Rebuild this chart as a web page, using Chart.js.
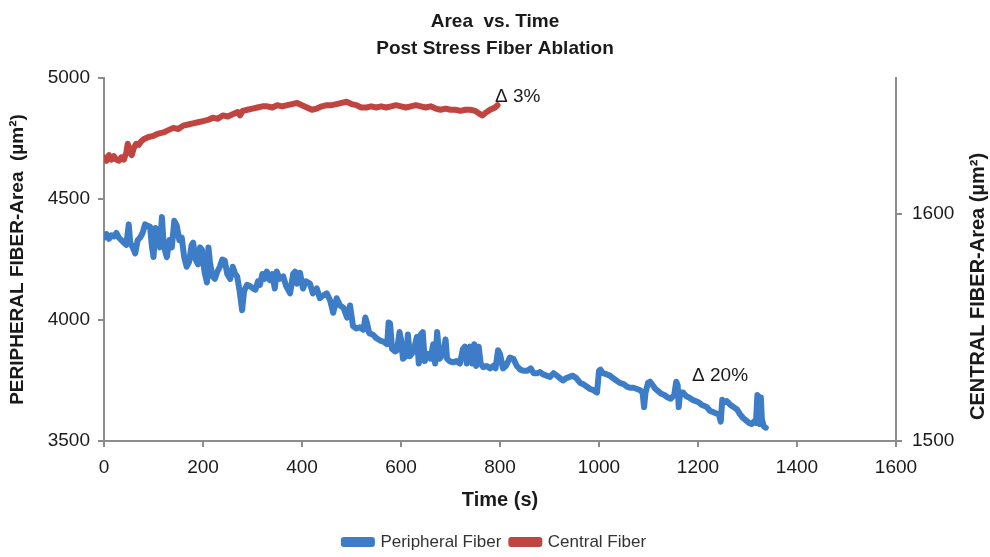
<!DOCTYPE html>
<html>
<head>
<meta charset="utf-8">
<script src="https://cdn.jsdelivr.net/npm/chart.js@4.4.1/dist/chart.umd.min.js"></script>
<style>
html,body{margin:0;padding:0;background:#fff;}
#wrap{width:990px;height:557px;}
</style>
</head>
<body>
<div id="wrap"><canvas id="c" width="990" height="557"></canvas></div>
<script>
// ---- data ----
const periTime = [0,5,10,15,20,25,30,35,40,45,50,53,58,63,68,73,78,83,88,93,97,100,104,109,113,117,120,124,127,132,137,142,147,152,157,162,167,172,177,180,185,190,194,198,203,208,211,214,219,224,229,234,239,244,249,255,260,265,269,274,279,283,289,295,301,306,311,315,320,325,329,335,340,345,349,355,362,368,376,382,386,390,396,402,408,416,422,430,436,442,450,457,463,470,477,484,491,497,503,510,517,524,528,531,536,543,550,558,565,572,575,578,582,588,592,597,600,604,610,614,618,625,632,636,640,644,648,654,660,665,669,673,678,685,690,693,698,705,712,719,725,729,733,739,744,748,752,757,761,766,773,780,786,791,796,800,806,812,820,827,834,841,848,855,862,868,875,881,887,894,901,908,915,921,927,934,947,954,962,968,975,982,989,996,1000,1003,1008,1016,1022,1028,1035,1042,1050,1056,1063,1070,1077,1083,1088,1091,1094,1099,1103,1107,1114,1120,1126,1132,1139,1145,1152,1156,1159,1161,1164,1170,1176,1182,1189,1195,1201,1207,1213,1218,1224,1230,1236,1242,1246,1249,1253,1258,1265,1272,1279,1285,1291,1297,1303,1308,1313,1317,1320,1323,1325,1327,1329,1333,1337];
const periArea = [4340,4355,4335,4350,4345,4360,4340,4330,4320,4310,4395,4320,4300,4275,4330,4340,4360,4395,4390,4385,4300,4260,4380,4370,4300,4425,4330,4280,4260,4330,4300,4410,4390,4330,4340,4260,4220,4240,4310,4320,4250,4230,4300,4290,4200,4155,4300,4240,4180,4170,4200,4220,4250,4245,4190,4170,4220,4190,4180,4120,4040,4120,4145,4140,4130,4125,4160,4145,4190,4170,4200,4165,4190,4130,4200,4170,4180,4140,4110,4190,4200,4150,4195,4130,4160,4150,4110,4130,4090,4100,4110,4080,4030,4090,4060,4050,4010,4060,3975,3965,3970,3960,4010,3990,3945,3940,3925,3915,3910,3900,3990,3985,3880,3870,3875,3950,3920,3840,3850,3940,3850,3870,3930,3820,3940,3950,3830,3860,3840,3900,3820,3950,3840,3860,3920,3840,3830,3825,3830,3820,3880,3890,3820,3890,3820,3900,3810,3890,3820,3805,3810,3800,3810,3800,3875,3860,3800,3810,3845,3840,3810,3795,3790,3790,3800,3780,3780,3785,3775,3770,3765,3780,3770,3760,3750,3760,3770,3760,3740,3735,3725,3715,3710,3700,3790,3795,3780,3775,3770,3760,3750,3740,3735,3725,3720,3720,3715,3710,3700,3640,3700,3740,3745,3735,3715,3705,3695,3690,3680,3675,3690,3745,3730,3640,3700,3700,3685,3680,3670,3665,3660,3650,3645,3640,3625,3620,3615,3610,3580,3670,3660,3665,3650,3640,3630,3610,3595,3585,3575,3570,3580,3575,3690,3680,3570,3680,3590,3560,3555];
const centTime = [0,5,10,15,20,25,30,35,40,45,48,52,56,60,65,70,75,80,90,100,110,120,130,140,150,160,170,180,190,200,210,220,230,240,250,260,270,275,280,290,300,310,320,330,340,350,360,370,380,390,400,410,420,430,440,450,460,470,480,490,500,510,520,530,540,550,560,570,580,590,600,610,620,630,640,650,660,670,680,690,700,710,720,730,740,750,760,765,770,780,790,795];
const centArea = [1625,1623.5,1626,1624,1625.5,1624,1623.5,1625,1624,1627,1631,1628,1626,1629,1631,1630.5,1632,1633,1634,1634.5,1635.5,1636,1637,1638,1637.5,1639,1639.5,1640,1640.5,1641,1641.5,1642.5,1642,1643.5,1643,1644,1645,1643.5,1645.5,1646,1646.5,1647,1647.5,1647.5,1647,1648,1647.5,1648,1648.5,1649,1648,1647,1646,1646.5,1647.5,1648,1648,1648.5,1649,1649.5,1648.5,1648,1647,1647,1647.5,1647,1647.5,1647,1647.5,1648,1647.5,1647,1647.5,1648,1647.5,1647,1647.5,1646.5,1646,1646.5,1646,1646,1645.5,1646,1646,1645.5,1644,1643.5,1644.5,1646,1647,1648];
const seriesNames = ['Peripheral Fiber', 'Central Fiber'];
const titleLines = ['Area  vs. Time', 'Post Stress Fiber Ablation'];
const noteTexts = ['\u0394 3%', '\u0394 20%'];
const noteTimes = [790, 1188];
const noteAreas = [4921, 3769];

const FONT = "'Liberation Sans', Arial, sans-serif";
const BLUE = '#3d7cc6';
const RED = '#c0443f';
const AXIS = '#8c8c8c';
const TXT = '#1a1a1a';

const notesPlugin = {
  id: 'notes',
  afterDatasetsDraw(chart) {
    const ctx = chart.ctx, x = chart.scales.x, y = chart.scales.y;
    ctx.save();
    ctx.fillStyle = TXT;
    ctx.font = '19px ' + FONT;
    ctx.textBaseline = 'middle';
    ctx.textAlign = 'left';
    noteTexts.forEach((t, i) => {
      ctx.fillText(t, x.getPixelForValue(noteTimes[i]), y.getPixelForValue(noteAreas[i]));
    });
    // right axis title (reads bottom-to-top)
    const a = chart.chartArea;
    ctx.translate(978, (a.top + a.bottom) / 2 + 27);
    ctx.rotate(-Math.PI / 2);
    ctx.textAlign = 'center';
    ctx.font = 'bold 20px ' + FONT;
    ctx.fillText('CENTRAL FIBER-Area (\u00b5m\u00b2)', 0, 0);
    ctx.restore();
  }
};

const axisGrid = {display: true, drawOnChartArea: false, drawTicks: true, tickLength: 6, color: AXIS, lineWidth: 2};
const axisBorder = {display: true, color: AXIS, width: 2};
const plain = v => String(v);

new Chart(document.getElementById('c'), {
  type: 'line',
  data: {
    datasets: [
      {label: seriesNames[0], data: periTime.map((t, i) => ({x: t, y: periArea[i]})), yAxisID: 'y',
       borderColor: BLUE, backgroundColor: BLUE, borderWidth: 6, pointRadius: 0, tension: 0,
       borderJoinStyle: 'round', borderCapStyle: 'round'},
      {label: seriesNames[1], data: centTime.map((t, i) => ({x: t, y: centArea[i]})), yAxisID: 'y1',
       borderColor: RED, backgroundColor: RED, borderWidth: 6, pointRadius: 0, tension: 0,
       borderJoinStyle: 'round', borderCapStyle: 'round'}
    ]
  },
  options: {
    responsive: false,
    animation: false,
    devicePixelRatio: 1,
    layout: {padding: {left: 0, right: 0, top: 0, bottom: -3.5}},
    plugins: {
      title: {display: true, text: titleLines, color: TXT, font: {family: FONT, size: 19, weight: 'bold', lineHeight: 1.42}, padding: {top: 8, bottom: 16}},
      legend: {position: 'bottom', labels: {boxWidth: 28, boxHeight: 4, padding: 10, color: '#333', font: {family: FONT, size: 17}}},
      tooltip: {enabled: false}
    },
    scales: {
      x: {type: 'linear', min: 0, max: 1600,
          ticks: {stepSize: 200, color: TXT, font: {family: FONT, size: 19}, padding: 9, maxRotation: 0, callback: plain},
          grid: axisGrid, border: axisBorder,
          title: {display: true, text: 'Time (s)', color: TXT, font: {family: FONT, size: 20, weight: 'bold'}, padding: {top: 10, bottom: 11}},
          afterFit(s) { s.height = 82.5; }},
      y: {type: 'linear', position: 'left', min: 3500, max: 5000,
          ticks: {stepSize: 500, color: TXT, font: {family: FONT, size: 19}, padding: 8, callback: plain},
          grid: axisGrid, border: axisBorder,
          title: {display: true, text: 'PERIPHERAL FIBER-Area  (\u00b5m\u00b2)', color: TXT, font: {family: FONT, size: 19, weight: 'bold'}, padding: {top: 6, bottom: 4}},
          afterFit(s) { s.width = 104; }},
      y1: {type: 'linear', position: 'right', min: 1500, max: 1660,
          ticks: {stepSize: 100, includeBounds: false, color: TXT, font: {family: FONT, size: 19}, padding: 10, callback: plain},
          grid: axisGrid, border: axisBorder,
          afterFit(s) { s.width = 94; }}
    }
  },
  plugins: [notesPlugin]
});
</script>
</body>
</html>
